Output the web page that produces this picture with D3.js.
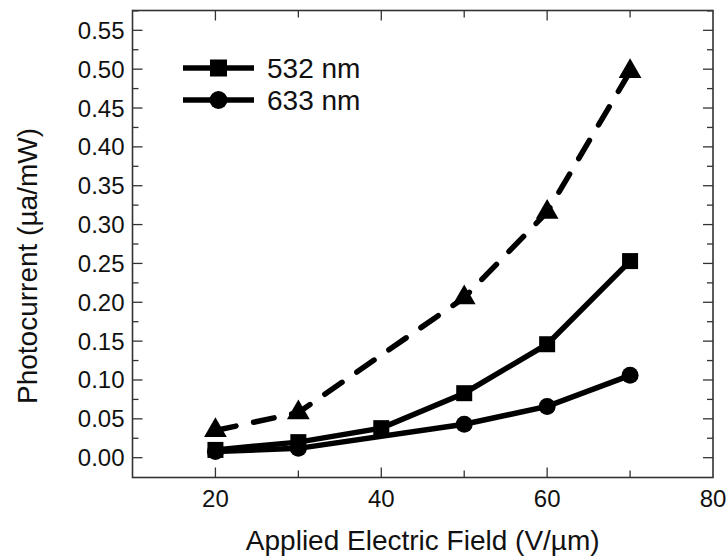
<!DOCTYPE html>
<html>
<head>
<meta charset="utf-8">
<script src="https://cdn.jsdelivr.net/npm/d3@7.9.0/dist/d3.min.js"></script>
<style>
  body { margin: 0; background: #fff; }
  text { font-family: "Liberation Sans", Arial, sans-serif; fill: #111; }
</style>
</head>
<body>
<svg id="chart" width="728" height="558"></svg>
<script>
// data
const field532 = [20, 30, 40, 50, 60, 70];
const current532 = [0.010, 0.020, 0.038, 0.083, 0.146, 0.253];

const field633 = [20, 30, 50, 60, 70];
const current633 = [0.008, 0.012, 0.043, 0.066, 0.106];

const fieldTri = [20, 30, 50, 60, 70];
const currentTri = [0.035, 0.058, 0.206, 0.316, 0.497];

const xTicks = [20, 40, 60, 80];
const xMinor = [30, 50, 70];
const yTicks = d3.range(0, 0.551, 0.05);
const yMinor = d3.range(0.025, 0.576, 0.05);

const legendLabels = ['532 nm', '633 nm'];

const svg = d3.select('#chart');
const margin = { left: 132.5, right: 15, top: 10.5, bottom: 80.5 };
const W = 728, H = 558;

const x = d3.scaleLinear().domain([10, 80]).range([margin.left, W - margin.right]);
const y = d3.scaleLinear().domain([-0.0255, 0.5755]).range([H - margin.bottom, margin.top]);

const x0 = x.range()[0], x1 = x.range()[1];
const y0 = y.range()[0], y1 = y.range()[1];

// ticks, inward on all four sides
const tickG = svg.append('g').attr('stroke', '#333').attr('stroke-width', 1.3);
function vTicks(vals, len) {
  vals.forEach(v => {
    tickG.append('line').attr('x1', x(v)).attr('x2', x(v)).attr('y1', y0).attr('y2', y0 - len);
    tickG.append('line').attr('x1', x(v)).attr('x2', x(v)).attr('y1', y1).attr('y2', y1 + len);
  });
}
function hTicks(vals, len) {
  vals.forEach(v => {
    tickG.append('line').attr('y1', y(v)).attr('y2', y(v)).attr('x1', x0).attr('x2', x0 + len);
    tickG.append('line').attr('y1', y(v)).attr('y2', y(v)).attr('x1', x1).attr('x2', x1 - len);
  });
}
vTicks(xTicks.filter(d => d < 80), 10);
vTicks(xMinor, 7);
hTicks(yTicks, 10);
hTicks(yMinor, 6);

// frame
svg.append('rect')
  .attr('x', x0).attr('y', y1)
  .attr('width', x1 - x0).attr('height', y0 - y1)
  .attr('fill', 'none').attr('stroke', '#333').attr('stroke-width', 1.6);

// tick labels
svg.append('g').selectAll('text').data(xTicks).join('text')
  .attr('x', d => x(d)).attr('y', y0 + 29)
  .attr('text-anchor', 'middle').attr('font-size', 24)
  .text(d => d);

svg.append('g').selectAll('text').data(yTicks).join('text')
  .attr('x', x0 - 8).attr('y', d => y(d) + 8.5)
  .attr('text-anchor', 'end').attr('font-size', 24)
  .text(d => d3.format('.2f')(d));

// axis titles
svg.append('text')
  .attr('x', (x0 + x1) / 2).attr('y', 550)
  .attr('text-anchor', 'middle').attr('font-size', 28)
  .text('Applied Electric Field (V/\u00b5m)');

svg.append('text')
  .attr('transform', 'translate(37,266) rotate(-90)')
  .attr('text-anchor', 'middle').attr('font-size', 28)
  .text('Photocurrent (\u00b5a/mW)');

// series
const line = d3.line().x(d => x(d[0])).y(d => y(d[1]));
const zip = (a, b) => a.map((v, i) => [v, b[i]]);

const s532 = zip(field532, current532);
const s633 = zip(field633, current633);
const sTri = zip(fieldTri, currentTri);

svg.append('path').datum(sTri).attr('d', line)
  .attr('fill', 'none').attr('stroke', '#000').attr('stroke-width', 5.5)
  .attr('stroke-linecap', 'round').attr('stroke-dasharray', '21,18');

svg.append('path').datum(s633).attr('d', line)
  .attr('fill', 'none').attr('stroke', '#000').attr('stroke-width', 5.5);
svg.append('path').datum(s532).attr('d', line)
  .attr('fill', 'none').attr('stroke', '#000').attr('stroke-width', 5.5);

const tri = d3.symbol().type(d3.symbolTriangle).size(225);
svg.append('g').selectAll('path').data(sTri).join('path')
  .attr('transform', d => `translate(${x(d[0])},${y(d[1])})`)
  .attr('d', tri).attr('fill', '#000');

svg.append('g').selectAll('circle').data(s633).join('circle')
  .attr('cx', d => x(d[0])).attr('cy', d => y(d[1])).attr('r', 8.5)
  .attr('fill', '#000');

svg.append('g').selectAll('rect').data(s532).join('rect')
  .attr('x', d => x(d[0]) - 8).attr('y', d => y(d[1]) - 8)
  .attr('width', 16).attr('height', 16).attr('fill', '#000');

// legend
const leg = svg.append('g');
const legY = [68, 100];
legendLabels.forEach((lab, i) => {
  leg.append('line').attr('x1', 183).attr('x2', 254)
    .attr('y1', legY[i]).attr('y2', legY[i])
    .attr('stroke', '#000').attr('stroke-width', 5.5);
  if (i === 0) {
    leg.append('rect').attr('x', 210).attr('y', legY[i] - 8.5)
      .attr('width', 17).attr('height', 17).attr('fill', '#000');
  } else {
    leg.append('circle').attr('cx', 218.5).attr('cy', legY[i]).attr('r', 9)
      .attr('fill', '#000');
  }
  leg.append('text').attr('x', 267).attr('y', legY[i] + 10)
    .attr('font-size', 28).text(lab);
});
</script>
</body>
</html>
